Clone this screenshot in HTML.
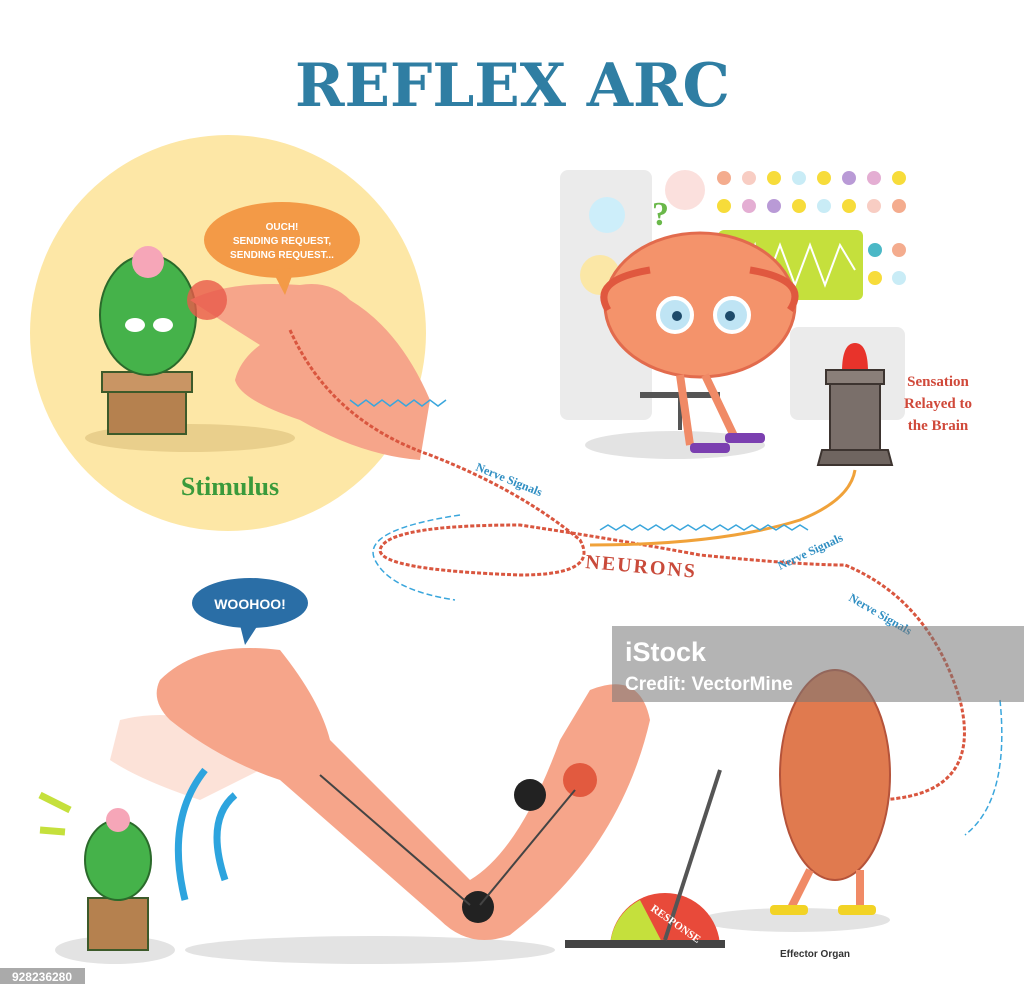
<!DOCTYPE html>
<html><head><meta charset="utf-8"><style>
html,body{margin:0;padding:0;background:#fff;}
svg{display:block;}
.serif{font-family:"Liberation Serif",serif;font-weight:bold;}
.sans{font-family:"Liberation Sans",sans-serif;font-weight:bold;}
</style></head><body>
<svg width="1024" height="997" viewBox="0 0 1024 997" xmlns="http://www.w3.org/2000/svg">
<rect width="1024" height="997" fill="#fff"/>
<text x="295" y="106" textLength="435" lengthAdjust="spacingAndGlyphs" font-family="DejaVu Serif, serif" font-weight="bold" font-size="60" fill="#2f7ea3">REFLEX ARC</text>

<!-- stimulus circle -->
<circle cx="228" cy="333" r="198" fill="#fde7a6"/>
<ellipse cx="190" cy="438" rx="105" ry="14" fill="#e9cf8c"/>
<!-- cactus -->
<rect x="108" y="372" width="78" height="62" fill="#b5814f" stroke="#3d5a2a" stroke-width="2"/>
<rect x="102" y="372" width="90" height="20" fill="#c99564" stroke="#3d5a2a" stroke-width="2"/>
<ellipse cx="148" cy="315" rx="48" ry="60" fill="#45b24a" stroke="#2b6a2b" stroke-width="2"/>
<circle cx="148" cy="262" r="16" fill="#f6a6b8"/>
<ellipse cx="135" cy="325" rx="10" ry="7" fill="#fff"/><ellipse cx="163" cy="325" rx="10" ry="7" fill="#fff"/>
<!-- hand -->
<path d="M190 300 Q230 280 300 285 Q330 280 350 300 Q400 330 430 400 L420 460 Q360 455 300 420 Q240 400 235 380 Q240 360 260 345 Q220 320 190 300Z" fill="#f6a58a"/>
<circle cx="207" cy="300" r="20" fill="#e85a4a" opacity="0.8"/>
<!-- bubble -->
<ellipse cx="282" cy="240" rx="78" ry="38" fill="#f39a47"/>
<path d="M272 270 L285 295 L295 268Z" fill="#f39a47"/>
<text x="282" y="230" text-anchor="middle" class="sans" font-size="10" fill="#fff">OUCH!</text>
<text x="282" y="244" text-anchor="middle" class="sans" font-size="10" fill="#fff">SENDING REQUEST,</text>
<text x="282" y="258" text-anchor="middle" class="sans" font-size="10" fill="#fff">SENDING REQUEST...</text>
<text x="230" y="495" text-anchor="middle" class="serif" font-size="26" fill="#3a9a3b">Stimulus</text>

<!-- brain panel -->
<rect x="560" y="170" width="92" height="250" rx="8" fill="#ebebeb"/>
<rect x="790" y="327" width="115" height="93" rx="8" fill="#ebebeb"/>
<circle cx="607" cy="215" r="18" fill="#cdeefa"/>
<circle cx="685" cy="190" r="20" fill="#fbe0dd"/>
<circle cx="600" cy="275" r="20" fill="#fbe7a6"/>
<rect x="718" y="230" width="145" height="70" rx="6" fill="#c5e03c"/>
<polyline points="725,270 745,270 755,245 765,285 780,245 795,285 810,245 825,285 840,245 855,270" fill="none" stroke="#fff" stroke-width="2"/>
<g>
<circle cx="724" cy="178" r="7" fill="#f4ac8e"/><circle cx="749" cy="178" r="7" fill="#f8cdc3"/><circle cx="774" cy="178" r="7" fill="#f7dc3a"/><circle cx="799" cy="178" r="7" fill="#c9ecf6"/><circle cx="824" cy="178" r="7" fill="#f7dc3a"/><circle cx="849" cy="178" r="7" fill="#b99ad6"/><circle cx="874" cy="178" r="7" fill="#e4aed3"/><circle cx="899" cy="178" r="7" fill="#f7dc3a"/>
<circle cx="724" cy="206" r="7" fill="#f7dc3a"/><circle cx="749" cy="206" r="7" fill="#e4aed3"/><circle cx="774" cy="206" r="7" fill="#b99ad6"/><circle cx="799" cy="206" r="7" fill="#f7dc3a"/><circle cx="824" cy="206" r="7" fill="#c9ecf6"/><circle cx="849" cy="206" r="7" fill="#f7dc3a"/><circle cx="874" cy="206" r="7" fill="#f8cdc3"/><circle cx="899" cy="206" r="7" fill="#f4ac8e"/>
<circle cx="875" cy="250" r="7" fill="#4bb8c6"/><circle cx="899" cy="250" r="7" fill="#f4ac8e"/><circle cx="875" cy="278" r="7" fill="#f7dc3a"/><circle cx="899" cy="278" r="7" fill="#c9ecf6"/>
</g>
<text x="652" y="225" class="serif" font-size="34" fill="#6ab84a">?</text>
<ellipse cx="675" cy="445" rx="90" ry="14" fill="#e3e3e3"/>
<ellipse cx="700" cy="305" rx="95" ry="72" fill="#f4936b" stroke="#e26b4d" stroke-width="3"/>
<path d="M608 310 Q590 280 650 270 M790 310 Q810 280 750 270" stroke="#e0583f" stroke-width="7" fill="none"/>
<circle cx="675" cy="315" r="17" fill="#bfe4f4" stroke="#fff" stroke-width="4"/>
<circle cx="732" cy="315" r="17" fill="#bfe4f4" stroke="#fff" stroke-width="4"/>
<circle cx="677" cy="316" r="5" fill="#1d4a6a"/><circle cx="730" cy="316" r="5" fill="#1d4a6a"/>
<rect x="640" y="392" width="80" height="6" fill="#555"/>
<line x1="680" y1="398" x2="680" y2="430" stroke="#555" stroke-width="4"/>
<path d="M680 375 L690 445 M705 375 L735 438" stroke="#f08a66" stroke-width="8"/>
<rect x="690" y="443" width="40" height="10" rx="4" fill="#7b3fb0"/><rect x="725" y="433" width="40" height="10" rx="4" fill="#7b3fb0"/>
<!-- alarm -->
<path d="M842 372 Q842 343 855 343 Q868 343 868 372Z" fill="#e8332b"/>
<rect x="830" y="382" width="50" height="70" fill="#7a6f6a" stroke="#3d3430" stroke-width="2"/>
<rect x="826" y="370" width="58" height="14" fill="#8a7f79" stroke="#3d3430" stroke-width="2"/>
<path d="M822 450 L888 450 L892 465 L818 465Z" fill="#6f6560" stroke="#3d3430" stroke-width="2"/>
<text x="938" y="386" text-anchor="middle" class="serif" font-size="15" fill="#d0493a">Sensation</text>
<text x="938" y="408" text-anchor="middle" class="serif" font-size="15" fill="#d0493a">Relayed to</text>
<text x="938" y="430" text-anchor="middle" class="serif" font-size="15" fill="#d0493a">the Brain</text>

<!-- nerves -->
<path d="M290 330 Q330 420 430 455 Q520 490 580 540 Q600 575 520 575 Q380 570 380 550 Q385 525 520 525 Q620 540 700 555 Q800 565 845 565 Q930 600 960 700 Q985 800 870 800" fill="none" stroke="#d9563f" stroke-width="3" stroke-dasharray="4 2"/>
<path d="M590 545 Q720 545 800 520 Q850 500 855 470" fill="none" stroke="#f0a23a" stroke-width="3"/>
<path d="M350 400 l8 6 l8 -6 l8 6 l8 -6 l8 6 l8 -6 l8 6 l8 -6 l8 6 l8 -6 l8 6 l8 -6" fill="none" stroke="#3aa6dc" stroke-width="1.5"/>
<path d="M600 530 l8 -5 l8 5 l8 -5 l8 5 l8 -5 l8 5 l8 -5 l8 5 l8 -5 l8 5 l8 -5 l8 5 l8 -5 l8 5 l8 -5 l8 5 l8 -5 l8 5 l8 -5 l8 5 l8 -5 l8 5 l8 -5 l8 5 l8 -5 l8 5" fill="none" stroke="#3aa6dc" stroke-width="1.5"/>
<path d="M460 515 Q360 530 375 560 Q390 590 455 600" fill="none" stroke="#3aa6dc" stroke-width="1.5" stroke-dasharray="6 3"/>
<path d="M1000 700 Q1010 800 965 835" fill="none" stroke="#3aa6dc" stroke-width="1.5" stroke-dasharray="6 3"/>
<text x="475" y="470" class="serif" font-size="12" fill="#2f8ec2" transform="rotate(22 475 470)">Nerve Signals</text>
<text x="780" y="570" class="serif" font-size="12" fill="#2f8ec2" transform="rotate(-25 780 570)">Nerve Signals</text>
<text x="848" y="600" class="serif" font-size="12" fill="#2f8ec2" transform="rotate(30 848 600)">Nerve Signals</text>
<text x="585" y="568" class="serif" font-size="20" fill="#c94a3a" letter-spacing="2" transform="rotate(5 585 568)">NEURONS</text>

<!-- bottom arm -->
<ellipse cx="370" cy="950" rx="185" ry="14" fill="#e3e3e3"/>
<ellipse cx="115" cy="950" rx="60" ry="14" fill="#e3e3e3"/>
<ellipse cx="795" cy="920" rx="95" ry="12" fill="#e3e3e3"/>
<path d="M120 720 Q200 700 280 760 L200 800 Q140 780 110 760Z" fill="#fbd6c8" opacity="0.7"/>
<path d="M160 680 Q200 640 280 650 Q320 700 330 740 L470 880 Q520 850 560 740 L590 690 Q640 670 650 720 Q620 850 510 935 Q470 950 440 920 L280 780 Q220 760 170 720 Q150 700 160 680Z" fill="#f6a58a"/>
<g fill="#222"><circle cx="530" cy="795" r="16"/><circle cx="478" cy="907" r="16"/></g>
<circle cx="580" cy="780" r="17" fill="#e25a3f"/>
<line x1="320" y1="775" x2="470" y2="905" stroke="#444" stroke-width="2"/>
<line x1="480" y1="905" x2="575" y2="790" stroke="#444" stroke-width="2"/>
<path d="M185 900 Q165 820 205 770 M225 880 Q205 820 235 795" fill="none" stroke="#2da4de" stroke-width="7"/>
<!-- woohoo -->
<ellipse cx="250" cy="603" rx="58" ry="25" fill="#2a6ea6"/>
<path d="M240 625 L245 645 L258 625Z" fill="#2a6ea6"/>
<text x="250" y="609" text-anchor="middle" class="sans" font-size="14" fill="#fff">WOOHOO!</text>
<!-- small cactus -->
<rect x="88" y="898" width="60" height="52" fill="#b5814f" stroke="#3d5a2a" stroke-width="2"/>
<ellipse cx="118" cy="860" rx="33" ry="40" fill="#45b24a" stroke="#2b6a2b" stroke-width="2"/>
<circle cx="118" cy="820" r="12" fill="#f6a6b8"/>
<path d="M40 795 L70 810 M40 830 L65 832" stroke="#c5e03c" stroke-width="7"/>
<!-- response -->
<path d="M610 948 A55 55 0 0 1 720 948Z" fill="#e84a3a"/>
<path d="M610 948 A55 55 0 0 1 640 900 L665 948Z" fill="#c5e03c"/>
<rect x="565" y="940" width="160" height="8" fill="#444"/>
<line x1="665" y1="940" x2="720" y2="770" stroke="#555" stroke-width="4"/>
<text x="650" y="910" class="serif" font-size="11" fill="#fff" transform="rotate(35 650 910)">RESPONSE</text>
<!-- muscle -->
<ellipse cx="835" cy="775" rx="55" ry="105" fill="#e07a4f" stroke="#b5533a" stroke-width="2"/>
<path d="M810 870 L790 910 M860 870 L860 910" stroke="#f08a66" stroke-width="8"/>
<rect x="770" y="905" width="38" height="10" rx="4" fill="#f2d325"/><rect x="838" y="905" width="38" height="10" rx="4" fill="#f2d325"/>
<text x="815" y="957" text-anchor="middle" class="sans" font-size="10" fill="#333">Effector Organ</text>
<!-- watermark -->
<rect x="612" y="626" width="412" height="76" fill="#777" opacity="0.55"/>
<text x="625" y="661" class="sans" font-size="27" fill="#fff">iStock</text>
<text x="625" y="690" class="sans" font-size="19" fill="#fff">Credit: VectorMine</text>
<rect x="0" y="968" width="85" height="16" fill="#aaa"/>
<text x="42" y="981" text-anchor="middle" class="sans" font-size="12" fill="#fff">928236280</text>
</svg>
</body></html>
